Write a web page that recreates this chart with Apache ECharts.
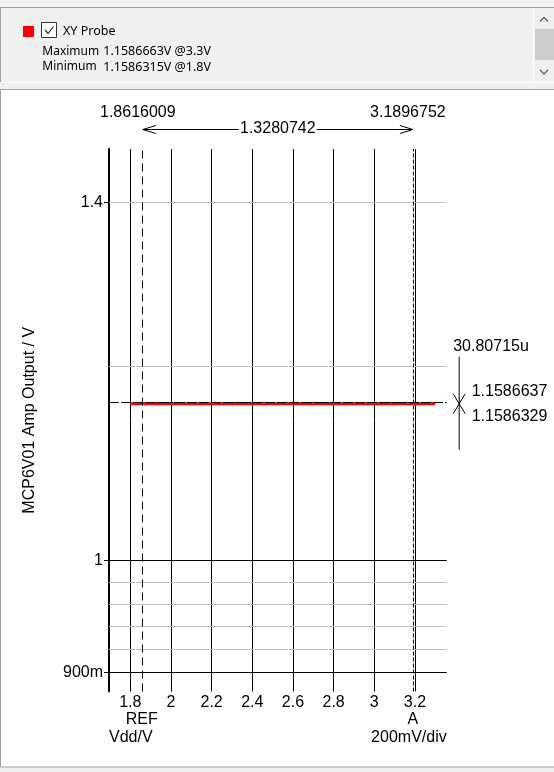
<!DOCTYPE html>
<html>
<head>
<meta charset="utf-8">
<script src="https://cdn.jsdelivr.net/npm/echarts/dist/echarts.min.js"></script>
<style>
html,body{margin:0;padding:0;background:#f0f0f0;}
#c{width:554px;height:772px;}
</style>
</head>
<body>
<div id="c"></div>
<script>
// ---- data ----
const seriesName = 'XY Probe';
const vdd = [1.8, 1.8616009, 3.1896752, 3.3];
const ampOut = [1.1586315, 1.1586329, 1.1586637, 1.1586663];
const xTicks = [1.8, 2, 2.2, 2.4, 2.6, 2.8, 3, 3.2];
const xRange = [1.6953, 3.356];
const yRange = [0.8842, 1.472];
const yTickValues = [0.9, 1, 1.4];
const yTickLabels = ['900m', '1', '1.4'];
const yMajorGrid = [0.9, 1];
const yMinorGrid = [0.92, 0.94, 0.96, 0.98, 1.2, 1.4];
const cursorRef = { name: 'REF', x: 1.8616009, y: 1.1586329 };
const cursorA = { name: 'A', x: 3.1896752, y: 1.1586637 };
const cursorDx = '1.3280742';
const cursorDy = '30.80715u';
const cursorRefYLabel = '1.1586329';
const cursorAYLabel = '1.1586637';
const probeMaxLabel = 'Maximum';
const probeMaxValue = '1.1586663V @3.3V';
const probeMinLabel = 'Minimum';
const probeMinValue = '1.1586315V @1.8V';
const xAxisName = 'Vdd/V';
const xDivLabel = '200mV/div';
const yAxisName = 'MCP6V01 Amp Output / V';

const FONT = '"Liberation Sans", Arial, sans-serif';
const UIFONT = '"Noto Sans", "DejaVu Sans", sans-serif';

const chart = echarts.init(document.getElementById('c'), null, { renderer: 'canvas', width: 554, height: 772 });

function yLabel(v) {
  let best = 0, bd = Infinity;
  yTickValues.forEach((t, i) => { const d = Math.abs(Math.log(v) - Math.log(t)); if (d < bd) { bd = d; best = i; } });
  return yTickLabels[best];
}

const gridLines = [];
yMinorGrid.forEach(v => gridLines.push({ yAxis: v, lineStyle: { color: '#c0c0c0', width: 1, type: 'solid' } }));
yMajorGrid.forEach(v => gridLines.push({ yAxis: v, lineStyle: { color: '#000000', width: 1, type: 'solid' } }));

const option = {
  backgroundColor: '#f0f0f0',
  animation: false,
  legend: {
    data: [seriesName],
    left: 23, top: 25, padding: 0,
    icon: 'rect', itemWidth: 11, itemHeight: 11,
    selectedMode: false,
    textStyle: { fontFamily: UIFONT, fontSize: 12.5, color: '#000', padding: [0, 0, 0, 24] }
  },
  grid: { left: 109, right: 107.3, top: 149, bottom: 80.5, containLabel: false },
  xAxis: {
    type: 'value', min: xRange[0], max: xRange[1],
    axisLine: { show: false },
    axisTick: { show: false, customValues: xTicks },
    axisLabel: { customValues: xTicks, margin: 3, fontSize: 16, fontFamily: FONT, color: '#000' },
    splitLine: { show: true, lineStyle: { color: '#000', width: 1 } }
  },
  yAxis: {
    type: 'log', logBase: 10, min: yRange[0], max: yRange[1],
    name: yAxisName, nameLocation: 'middle', nameGap: 71, nameRotate: 90,
    nameTextStyle: { fontSize: 16, fontFamily: FONT, color: '#000' },
    axisLine: { show: true, onZero: false, lineStyle: { color: '#000', width: 2 } },
    axisTick: { show: true, length: 5, customValues: yTickValues, lineStyle: { color: '#000', width: 1 } },
    axisLabel: { customValues: yTickValues, formatter: yLabel, margin: 6, fontSize: 16, fontFamily: FONT, color: '#000' },
    splitLine: { show: false }, minorSplitLine: { show: false }
  },
  series: [
    {
      name: 'grid', type: 'line', data: [], silent: true, z: 1,
      markLine: { z: 1, silent: true, symbol: 'none', label: { show: false }, animation: false, data: gridLines }
    },
    {
      name: seriesName, type: 'line', z: 3,
      data: vdd.map((x, i) => [x, ampOut[i]]),
      showSymbol: false, symbol: 'none',
      lineStyle: { color: '#ff0000', width: 3 }, itemStyle: { color: '#ff0000' },
      markLine: {
        z: 6, silent: true, symbol: 'none', label: { show: false }, animation: false,
        data: [
          { xAxis: cursorRef.x, lineStyle: { color: '#000', width: 1, type: [8, 5] } },
          { xAxis: cursorA.x, lineStyle: { color: '#000', width: 1, type: [4, 2] } },
          { yAxis: cursorRef.y, lineStyle: { color: '#000', width: 1, type: [8, 5] } },
          { yAxis: cursorA.y, lineStyle: { color: '#000', width: 1, type: [4, 2] } }
        ]
      }
    }
  ]
};
chart.setOption(option);

// ---- annotations positioned through the axes ----
const pX = v => chart.convertToPixel({ xAxisIndex: 0 }, v);
const pY = v => chart.convertToPixel({ yAxisIndex: 0 }, v);
const xr = pX(cursorRef.x), xa = pX(cursorA.x);
const gLeft = pX(xRange[0]), gRight = pX(xRange[1]);
const cy = pY(cursorA.y);
const F16 = '16px ' + FONT;
const FUI = '12px ' + UIFONT;
const FUIV = '12.5px ' + UIFONT;

function txt(text, x, y, align, font) {
  return { type: 'text', silent: true, z: 20, style: { text: text, x: x, y: y, font: font || F16, fill: '#000', align: align, verticalAlign: 'middle', textAlign: align, textVerticalAlign: 'middle' } };
}
function line(x1, y1, x2, y2, color, w) {
  return { type: 'line', silent: true, z: 20, shape: { x1: x1, y1: y1, x2: x2, y2: y2 }, style: { stroke: color || '#000', lineWidth: w || 1 } };
}
function poly(points, color, w) {
  return { type: 'polyline', silent: true, z: 20, shape: { points: points }, style: { stroke: color || '#000', lineWidth: w || 1, fill: null } };
}

const graphics = [
  // frame / panels
  { type: 'rect', silent: true, z: -10, shape: { x: 0.5, y: 89.5, width: 600, height: 677.5 }, style: { fill: '#ffffff', stroke: '#a0a0a0', lineWidth: 1 } },
  line(0, 7.5, 554, 7.5, '#a0a0a0'),
  line(0.5, 7, 0.5, 82, '#a0a0a0'),
  line(1, 82.5, 554, 82.5, '#ffffff'),
  line(533.5, 8, 533.5, 82, '#ffffff'),
  { type: 'rect', silent: true, z: 20, shape: { x: 535, y: 29, width: 19, height: 31 }, style: { fill: '#cdcdcd' } },
  poly([[540, 21.5], [544, 17.5], [548, 21.5]], '#606060', 1.3),
  poly([[540, 70], [544, 74], [548, 70]], '#606060', 1.3),
  // checkbox
  { type: 'rect', silent: true, z: 20, shape: { x: 41.5, y: 22.5, width: 15, height: 15 }, style: { fill: '#ffffff', stroke: '#333333', lineWidth: 1 } },
  poly([[45, 30], [48, 33.5], [53.5, 26.5]], '#333333', 1.2),
  txt(probeMaxLabel, 42.3, 51.5, 'left', FUI),
  txt(probeMaxValue, 103.3, 51.5, 'left', FUIV),
  txt(probeMinLabel, 42.3, 67, 'left', FUI),
  txt(probeMinValue, 103.3, 67, 'left', FUIV),
  // top cursor readouts
  txt(cursorRef.x.toFixed(7), xr - 5, 113, 'center'),
  txt(cursorA.x.toFixed(7), xa - 5, 113, 'center'),
  line(xr, 129.5, xa, 129.5),
  poly([[xr + 13, 125.5], [xr, 129.5], [xr + 13, 133.5]]),
  poly([[xa - 13, 125.5], [xa, 129.5], [xa - 13, 133.5]]),
  { type: 'text', silent: true, z: 21, style: { text: cursorDx, x: (xr + xa) / 2, y: 129, font: F16, fill: '#000', backgroundColor: '#ffffff', padding: [0, 1], align: 'center', verticalAlign: 'middle', textAlign: 'center', textVerticalAlign: 'middle' } },
  // right readouts
  txt(cursorDy, gRight + 6.5, cy - 57, 'left'),
  line(gRight + 12.5, cy - 47, gRight + 12.5, cy + 46),
  line(gRight + 6.5, cy - 10, gRight + 18.5, cy + 10),
  line(gRight + 18.5, cy - 10, gRight + 6.5, cy + 10),
  txt(cursorAYLabel, gRight + 25, cy - 12.5, 'left'),
  txt(cursorRefYLabel, gRight + 25, cy + 13, 'left'),
  // bottom
  txt(cursorRef.name, xr - 1, 719.5, 'center'),
  txt(cursorA.name, xa, 719.5, 'center'),
  txt(xAxisName, gLeft, 737.7, 'left'),
  txt(xDivLabel, gRight, 737.7, 'right')
];
chart.setOption({ graphic: graphics });
</script>
</body>
</html>
